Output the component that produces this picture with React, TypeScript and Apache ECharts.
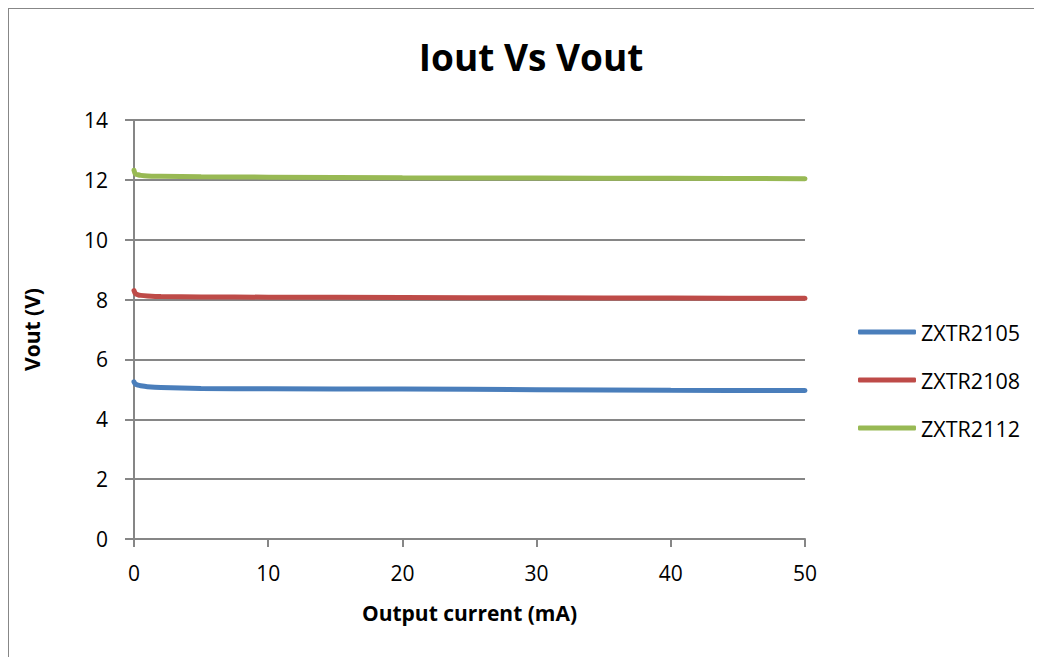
import React, { useEffect, useRef } from "react";
import * as echarts from "echarts";

const current = [0, 0.1, 0.3, 0.5, 1, 2, 5, 10, 20, 30, 40, 50];
const zxtr2105 = [5.25, 5.18, 5.14, 5.12, 5.09, 5.06, 5.03, 5.02, 5.01, 4.99, 4.97, 4.96];
const zxtr2108 = [8.3, 8.2, 8.16, 8.14, 8.12, 8.1, 8.09, 8.08, 8.07, 8.06, 8.05, 8.04];
const zxtr2112 = [12.32, 12.2, 12.17, 12.15, 12.13, 12.12, 12.1, 12.09, 12.07, 12.06, 12.05, 12.04];
const seriesNames = ["ZXTR2105", "ZXTR2108", "ZXTR2112"];
const colors = ["#4a7ebb", "#be4b48", "#98b954"];

const FONT = "'Open Sans', 'Noto Sans', sans-serif";

export default function App() {
  const ref = useRef<HTMLDivElement>(null);
  useEffect(() => {
    if (!ref.current) return;
    const chart = echarts.init(ref.current, undefined, { renderer: "svg" });
    const allSeries = [zxtr2105, zxtr2108, zxtr2112];
    chart.setOption({
      animation: false,
      backgroundColor: "#ffffff",
      graphic: [
        {
          type: "rect",
          shape: { x: 0, y: 0, width: 1100, height: 700 },
          style: { fill: "none", stroke: "#878787", lineWidth: 2 },
          silent: true,
        },
      ],
      title: {
        text: "Iout Vs Vout",
        left: 518,
        textAlign: "center",
        top: 25,
        textStyle: { fontFamily: FONT, fontWeight: "bold", fontSize: 37, color: "#000" },
      },
      legend: {
        orient: "vertical",
        left: 845,
        top: 307,
        itemGap: 24,
        itemWidth: 58,
        itemHeight: 5,
        icon: "roundRect",
        data: seriesNames,
        textStyle: { fontFamily: FONT, fontSize: 21.5, color: "#000", lineHeight: 24 },
      },
      grid: { left: 126, top: 112, width: 671, height: 419, containLabel: false },
      xAxis: {
        type: "value",
        min: 0,
        max: 50,
        interval: 10,
        name: "Output current (mA)",
        nameLocation: "middle",
        nameGap: 63,
        nameTextStyle: { fontFamily: FONT, fontWeight: "bold", fontSize: 21, color: "#000" },
        axisLine: { show: true, lineStyle: { color: "#868686", width: 2 } },
        axisTick: { show: true, length: 8, lineStyle: { color: "#868686", width: 2 } },
        axisLabel: { fontFamily: FONT, fontSize: 21, color: "#000", margin: 23 },
        splitLine: { show: false },
      },
      yAxis: {
        type: "value",
        min: 0,
        max: 14,
        interval: 2,
        name: "Vout (V)",
        nameLocation: "middle",
        nameGap: 92,
        nameTextStyle: { fontFamily: FONT, fontWeight: "bold", fontSize: 21, color: "#000" },
        axisLine: { show: true, lineStyle: { color: "#868686", width: 2 } },
        axisTick: { show: true, length: 9, lineStyle: { color: "#868686", width: 2 } },
        axisLabel: { fontFamily: FONT, fontSize: 21, color: "#000", margin: 26 },
        splitLine: { show: true, lineStyle: { color: "#868686", width: 2 } },
      },
      series: seriesNames.map((name, i) => ({
        name,
        type: "line",
        data: current.map((x, j) => [x, allSeries[i][j]]),
        smooth: 0.3,
        showSymbol: false,
        symbol: "none",
        lineStyle: { color: colors[i], width: 5, cap: "round" },
        itemStyle: { color: colors[i] },
      })),
    });
    return () => chart.dispose();
  }, []);
  return <div ref={ref} style={{ width: 1100, height: 700 }} />;
}
